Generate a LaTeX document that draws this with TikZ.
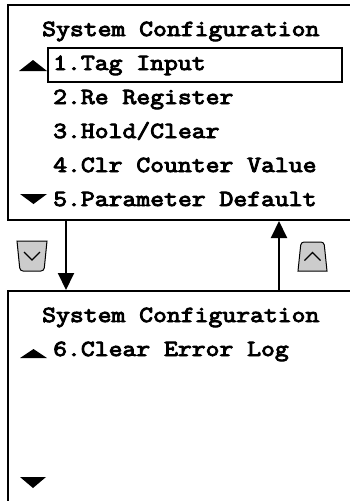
\documentclass[tikz,border=0pt]{standalone}
\usepackage{fontspec}
\newfontfamily\lcdfont[FakeStretch=1.17,FakeBold=4]{Latin Modern Mono}
\usetikzlibrary{arrows.meta,positioning}

\tikzset{keycap/.style={draw,fill=gray!40,line width=1pt}}

\begin{document}
\begin{tikzpicture}[x=1pt,y=-1pt]
\useasboundingbox (0,0) rectangle (350,501);
\clip (0,0) rectangle (350,501);
\begin{scope}[every node/.style={draw,line width=2pt,minimum width=352pt,inner sep=0pt}]
    \node[minimum height=215pt] (S1) at (184,112.5) {};
    \node[minimum height=220pt] (S2) at (184,401) {};
\end{scope}
\begin{scope}[every node/.style={anchor=base west,inner sep=0pt,
              font=\lcdfont\fontsize{23}{28}\selectfont}]
    \node (T1) at (42,36) {System Configuration};
    \node (I1) at (53,70) {1.Tag Input};
    \node (I2) at (53,104) {2.Re Register};
    \node (I3) at (53,138) {3.Hold/Clear};
    \node (I4) at (53,172) {4.Clr Counter Value};
    \node (I5) at (53,206) {5.Parameter Default};
    \node (T2) at (42,322) {System Configuration};
    \node (I6) at (53,356) {6.Clear Error Log};
\end{scope}
\node[draw,line width=1.3pt,minimum width=294pt,minimum height=34pt] (Sel) at (195,65) {};
% scroll marks
\fill (19,71) -- (47,71) -- (33,60) -- cycle;
\fill (20,194) -- (47,194) -- (33.5,204) -- cycle;
\fill (20,358) -- (47,358) -- (33.5,349) -- cycle;
\fill (20,477) -- (46,477) -- (33,488) -- cycle;
% keys
\coordinate (KeyDn) at (32,256);
\coordinate (KeyUp) at (312.5,256.5);
\path[keycap] (17,241) [rounded corners=3pt] -- (20,271) -- (44,271) [sharp corners] -- (47,241) -- cycle;
\path[keycap] (298,271) [rounded corners=3pt] -- (301,242) -- (324,242) [sharp corners] -- (327,271) -- cycle;
\draw[line width=1.3pt] (KeyDn) ++(-8,-4) -- ++(8,8) -- ++(8,-8);
\draw[line width=1.3pt] (KeyUp) ++(-8,4) -- ++(8,-8) -- ++(8,8);
\begin{scope}[>={Triangle[length=17pt,width=16pt]},line width=2pt]
    \coordinate (dn) at (66,0);
    \coordinate (up) at (279,0);
    \draw[->] (S1.south -| dn) -- (S2.north -| dn);
    \draw[->] (S2.north -| up) -- (S1.south -| up);
\end{scope}
\end{tikzpicture}
\end{document}
